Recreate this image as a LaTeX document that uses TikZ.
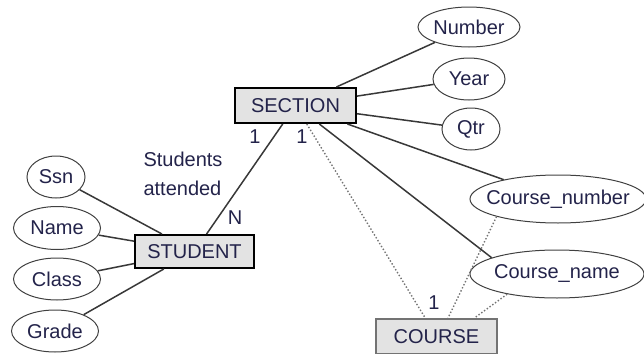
\documentclass[tikz,border=0pt]{standalone}
\usepackage{fontspec}
\setmainfont{Liberation Sans}
\usepackage{xcolor}
\usetikzlibrary{shapes.geometric}
\definecolor{txtcol}{HTML}{23234A}
\definecolor{linecol}{HTML}{383838}
\definecolor{boxcol}{HTML}{E3E3E3}

\begin{document}
\begin{tikzpicture}[x=0.5pt,y=-0.5pt,
    every node/.style={text=txtcol,font=\fontsize{10}{14.5}\selectfont},
    entity/.style={draw=black,line width=1pt,fill=boxcol,inner sep=0pt,minimum width=60.5pt,minimum height=17.5pt},
    attr/.style={ellipse,draw=black!75,line width=0.5pt,inner sep=0pt},
    link/.style={linecol,line width=0.75pt},
    weak/.style={black!55,densely dotted,line width=0.7pt}]
                    \useasboundingbox (0,0) rectangle (644,354);

                    \node[entity] (SEC) at (295.5,105.5) {SECTION};
                    \node[entity,minimum width=59.5pt,minimum height=16.5pt] (STU) at (194.5,251.5) {STUDENT};
                    \node[entity,draw=black!55] (CRS) at (436.5,336.5) {COURSE};

                    \node[attr,minimum width=51pt,minimum height=20pt] (NUM) at (469,27) {Number};
                    \node[attr,minimum width=36pt,minimum height=21pt] (YEAR) at (469,79) {Year};
                    \node[attr,minimum width=29pt,minimum height=21pt] (QTR) at (471,129) {Qtr};
                    \node[attr,minimum width=88pt,minimum height=24pt] (CNUM) at (558,199) {\makebox[0pt]{Course\_number}};
                    \node[attr,minimum width=87pt,minimum height=24pt] (CNAME) at (557,274) {\makebox[0pt]{Course\_name}};

                    \node[attr,minimum width=29pt,minimum height=21pt] (SSN) at (56,177) {Ssn};
                    \node[attr,minimum width=43.5pt,minimum height=21.5pt] (NAME) at (57,228) {Name};
                    \node[attr,minimum width=43.5pt,minimum height=21pt] (CLASS) at (57,279) {Class};
                    \node[attr,minimum width=43.5pt,minimum height=21pt] (GRADE) at (55,331) {Grade};

                    \node[align=left] (REL) at (183,174) {Students\\attended};
                    \node (N) at (235,218) {N};
                    \node (ONEA) at (255,137) {1};
                    \node (ONEB) at (302,137) {1};
                    \node (ONEC) at (434,303) {1};

                    \draw[link] (SEC) -- (NUM);
                    \draw[link] (SEC) -- (YEAR);
                    \draw[link] (SEC) -- (QTR);
                    \draw[link] (SEC) -- (CNUM);
                    \draw[link] (SEC) -- (CNAME.166);
                    \draw[link] (SEC) -- (STU);

                    \draw[link] (STU) -- (SSN);
                    \draw[link] (STU) -- (NAME);
                    \draw[link] (STU) -- (CLASS);
                    \draw[link] (STU) -- (GRADE);

                    \draw[weak] (SEC) -- (CRS);
                    \draw[weak] (CNUM.196) -- (CRS.58);
                    \draw[weak] (CNAME.202) -- (CRS.26);
                \end{tikzpicture}
\end{document}
